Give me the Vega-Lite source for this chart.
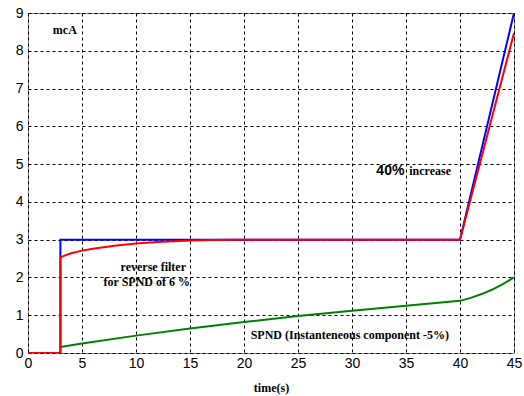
{
  "$schema": "https://vega.github.io/schema/vega-lite/v6.json",
  "width": 486,
  "height": 340,
  "autosize": {"type": "none"},
  "padding": {"left": 28, "top": 13, "right": 10, "bottom": 43},
  "background": "white",
  "config": {
    "view": {"stroke": "#808080", "strokeWidth": 1},
    "axis": {
      "labelFont": "Liberation Sans",
      "labelFontSize": 14,
      "labelColor": "black",
      "labelOverlap": false,
      "labelFlush": false,
      "grid": true,
      "gridColor": "black",
      "gridDash": [3, 3],
      "gridOpacity": 1,
      "gridWidth": 1,
      "domain": false,
      "ticks": false
    }
  },
  "datasets": {
    "lines": [
      {"t": 0, "v": 0, "s": "blue"}, {"t": 3, "v": 0, "s": "blue"}, {"t": 3, "v": 3, "s": "blue"}, {"t": 40, "v": 3, "s": "blue"}, {"t": 45, "v": 9, "s": "blue"},
      {"t": 3, "v": 0.16, "s": "green"}, {"t": 5, "v": 0.25, "s": "green"}, {"t": 10, "v": 0.46, "s": "green"}, {"t": 15, "v": 0.65, "s": "green"}, {"t": 20, "v": 0.82, "s": "green"}, {"t": 25, "v": 0.98, "s": "green"}, {"t": 30, "v": 1.12, "s": "green"}, {"t": 35, "v": 1.25, "s": "green"}, {"t": 40, "v": 1.38, "s": "green"}, {"t": 41, "v": 1.46, "s": "green"}, {"t": 42, "v": 1.56, "s": "green"}, {"t": 43, "v": 1.68, "s": "green"}, {"t": 44, "v": 1.83, "s": "green"}, {"t": 45, "v": 2.0, "s": "green"},
      {"t": 0, "v": 0, "s": "red"}, {"t": 3, "v": 0, "s": "red"}, {"t": 3, "v": 2.53, "s": "red"}, {"t": 3.5, "v": 2.59, "s": "red"}, {"t": 4, "v": 2.64, "s": "red"}, {"t": 5, "v": 2.71, "s": "red"}, {"t": 6, "v": 2.76, "s": "red"}, {"t": 7, "v": 2.8, "s": "red"}, {"t": 8, "v": 2.84, "s": "red"}, {"t": 10, "v": 2.9, "s": "red"}, {"t": 12, "v": 2.94, "s": "red"}, {"t": 15, "v": 2.975, "s": "red"}, {"t": 17, "v": 2.99, "s": "red"}, {"t": 19, "v": 3.0, "s": "red"}, {"t": 40, "v": 3.0, "s": "red"}, {"t": 45, "v": 8.47, "s": "red"}
    ],
    "serifCenter": [
      {"t": 11.6, "v": 2.28, "txt": "reverse filter"},
      {"t": 11.0, "v": 1.88, "txt": "for SPND of 6 %"},
      {"t": 29.8, "v": 0.47, "txt": "SPND (Instanteneous component -5%)"}
    ],
    "serifLeft": [
      {"t": 2.3, "v": 8.55, "txt": "mcA"},
      {"t": 35.3, "v": 4.82, "txt": "increase"}
    ],
    "sansRight": [
      {"t": 34.85, "v": 4.82, "txt": "40%"}
    ]
  },
  "encoding": {
    "x": {"field": "t", "type": "quantitative", "scale": {"domain": [0, 45], "nice": false}, "axis": {"values": [0,5,10,15,20,25,30,35,40,45], "title": "time(s)", "titleFont": "Liberation Serif", "titleFontSize": 12, "titleFontWeight": "bold", "titlePadding": 12, "labelPadding": 3}},
    "y": {"field": "v", "type": "quantitative", "scale": {"domain": [0, 9], "nice": false}, "axis": {"values": [0,1,2,3,4,5,6,7,8,9], "title": null, "labelPadding": 5}}
  },
  "layer": [
    {
      "data": {"name": "lines"},
      "mark": {"type": "line", "strokeWidth": 2, "clip": true},
      "encoding": {
        "color": {"field": "s", "type": "nominal", "scale": {"domain": ["blue", "green", "red"], "range": ["#0000FF", "#008000", "#FF0000"]}, "legend": null},
        "detail": {"field": "s"}
      }
    },
    {
      "data": {"name": "serifCenter"},
      "mark": {"type": "text", "fontWeight": "bold", "baseline": "middle", "align": "center", "color": "black", "font": "Liberation Serif", "fontSize": 12},
      "encoding": {"text": {"field": "txt"}}
    },
    {
      "data": {"name": "serifLeft"},
      "mark": {"type": "text", "fontWeight": "bold", "baseline": "middle", "align": "left", "color": "black", "font": "Liberation Serif", "fontSize": 12},
      "encoding": {"text": {"field": "txt"}}
    },
    {
      "data": {"name": "sansRight"},
      "mark": {"type": "text", "fontWeight": "bold", "baseline": "middle", "align": "right", "color": "black", "font": "Liberation Sans", "fontSize": 14},
      "encoding": {"text": {"field": "txt"}}
    }
  ]
}
